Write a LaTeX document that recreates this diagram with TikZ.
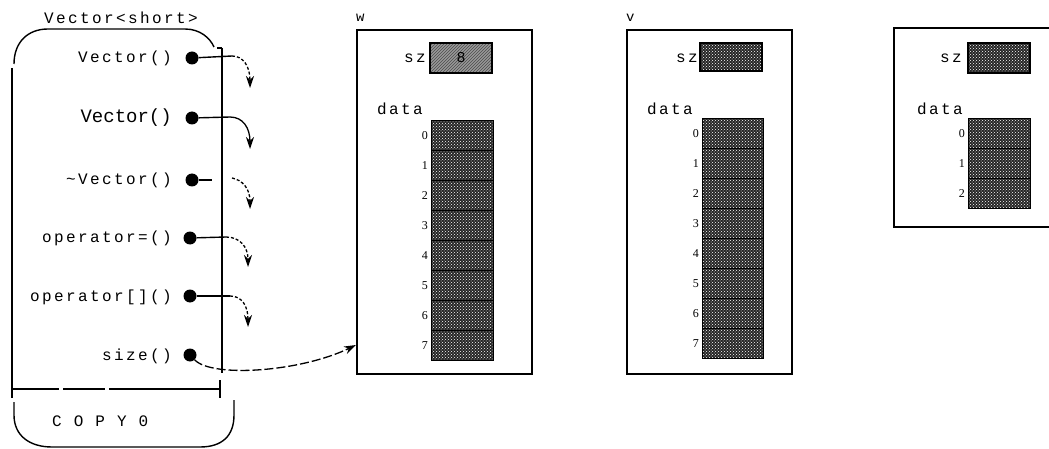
\documentclass[tikz,border=0pt]{standalone}
\usepackage{fontspec}
\newfontfamily\cour[LetterSpace=15]{Liberation Mono}
\newfontfamily\courplain{Liberation Mono}
\newfontfamily\idxfont{Liberation Serif}
\usetikzlibrary{patterns,arrows.meta,calc}
\tikzset{
  boxline/.style={line width=1.4pt},
  objbox/.style={draw, line width=2pt, rectangle, inner sep=0pt},
  lbl/.style={font=\cour\fontsize{16}{16}\selectfont, inner sep=0pt},
  dotnode/.style={circle, fill=black, inner sep=0pt, minimum size=13pt},
  cell/.style={draw, line width=1.4pt, rectangle, inner sep=0pt, anchor=north west,
    minimum width=62pt, minimum height=30pt,
    preaction={fill=black!85}, pattern=crosshatch dots, pattern color=white},
  szcell/.style={draw, line width=1.4pt, rectangle, inner sep=0pt,
    preaction={fill=black!85}, pattern=crosshatch dots, pattern color=white},
  idx/.style={font=\idxfont\fontsize{12}{12}\selectfont, inner sep=0pt, anchor=east},
  callarrow/.style={line width=1.3pt, densely dashed, -{Stealth[length=12pt,width=8pt]}},
  stub/.style={line width=1.4pt},
}
\begin{document}
\begin{tikzpicture}[x=1pt,y=-1pt]
\useasboundingbox (0,0) rectangle (1049,449);

% ---------- left class box ----------
\node[lbl, anchor=base] (title) at (121,24) {Vector<short>};
\draw[boxline] (14,64) .. controls (14,42) and (28,29) .. (48,29) -- (185,29)
  .. controls (200,29) and (210,38) .. (214,47);
\draw[boxline] (12,68) -- (12,398);
\draw[boxline] (222,48) -- (222,373);
\draw[boxline] (217,48) -- (222,48);
\draw[boxline, dash pattern=on 47pt off 4pt on 42pt off 4pt on 130pt] (12,389) -- (220,389);
\draw[boxline] (220,380) -- (220,398);
\draw[boxline] (14,402) -- (14,415) .. controls (14,436) and (30,447) .. (52,447) -- (200,447)
  .. controls (222,447) and (234,436) .. (234,415) -- (234,400);
\node[lbl, anchor=base west] (copy) at (52,426) {C O P Y 0};

% methods
\node[lbl, anchor=east] (m1) at (172,58) {Vector()};
\node[font=\courplain\fontsize{19}{19}\selectfont, inner sep=0pt, anchor=east] (m2) at (172,118) {Vector()};
\node[lbl, anchor=east] (m3) at (172,180) {\textasciitilde Vector()};
\node[lbl, anchor=east] (m4) at (172,238) {operator=()};
\node[lbl, anchor=east] (m5) at (172,297) {operator[]()};
\node[lbl, anchor=east] (m6) at (172,356) {size()};

\node[dotnode] (d1) at (192,58) {};
\node[dotnode] (d2) at (192,118) {};
\node[dotnode] (d3) at (192,180) {};
\node[dotnode] (d4) at (190,238) {};
\node[dotnode] (d5) at (190,296) {};
\node[dotnode] (d6) at (190,355) {};

\coordinate (a1) at (232,56);  \coordinate (t1) at (250,88);
\coordinate (a2) at (230,117); \coordinate (t2) at (250,149);
\coordinate (b3) at (212,180); \coordinate (a3) at (232,178); \coordinate (t3) at (250,209);
\coordinate (a4) at (226,237); \coordinate (t4) at (248,267);
\coordinate (a5) at (230,296); \coordinate (t5) at (248,327);

\draw[stub] (d1) -- (a1);
\draw[callarrow] (a1) .. controls (243,56) and (250,66) .. (t1);
\draw[stub] (d2) -- (a2);
\draw[callarrow, solid] (a2) .. controls (243,117) and (250,128) .. (t2);
\draw[stub] (d3) -- (b3);
\draw[callarrow] (a3) .. controls (242,180) and (250,188) .. (t3);
\draw[stub] (d4) -- (a4);
\draw[callarrow] (a4) .. controls (240,237) and (248,247) .. (t4);
\draw[stub] (d5) -- (a5);
\draw[callarrow] (a5) .. controls (242,296) and (248,306) .. (t5);

% ---------- object w ----------
\node[font=\courplain\fontsize{14}{14}\selectfont, inner sep=0pt, anchor=base west] (wlbl) at (356,22) {w};
\node[objbox, minimum width=175pt, minimum height=344pt] (w) at (444.5,202) {};
\node[lbl, anchor=east] (wsz) at (426,58) {sz};
\node[draw, line width=1.4pt, inner sep=0pt, minimum width=62pt, minimum height=30pt,
  preaction={fill=black!40}, pattern=north east lines, pattern color=black!70,
  font=\courplain\fontsize{15}{15}\selectfont] (wszc) at (461,58) {8};
\node[lbl, anchor=base west] (wdata) at (377,115) {data};
\foreach \i in {0,...,7} {
  \node[cell] (wc\i) at (431,{120+30*\i}) {};
  \node[idx] at ($(wc\i.west)+(-3,0)$) {\i};
}

\draw[line width=1.3pt, dash pattern=on 9pt off 3pt, -{Stealth[length=12pt,width=8pt]}]
  (d6) .. controls (212,378) and (300,372) .. ($(w.south west)+(0,-30)$);

% ---------- object v ----------
\node[font=\courplain\fontsize{14}{14}\selectfont, inner sep=0pt, anchor=base west] (vlbl) at (626,22) {v};
\node[objbox, minimum width=165pt, minimum height=344pt] (v) at (709.5,202) {};
\node[lbl, anchor=east] (vsz) at (698,58) {sz};
\node[szcell, minimum width=62pt, minimum height=28pt] (vszc) at (731,57) {};
\node[lbl, anchor=base west] (vdata) at (647,115) {data};
\foreach \i in {0,...,7} {
  \node[cell, minimum width=61pt] (vc\i) at (702,{118+30*\i}) {};
  \node[idx] at ($(vc\i.west)+(-3,0)$) {\i};
}

% ---------- third object (cut off) ----------
\draw[line width=2pt] (1049,28) -- (894,28) -- (894,227) -- (1049,227);
\node[lbl, anchor=east] (xsz) at (962,58) {sz};
\node[szcell, minimum width=62pt, minimum height=30pt] (xszc) at (999,58) {};
\node[lbl, anchor=base west] (xdata) at (917,115) {data};
\foreach \i in {0,1,2} {
  \node[cell, minimum width=62pt] (xc\i) at (968,{118+30*\i}) {};
  \node[idx] at ($(xc\i.west)+(-3,0)$) {\i};
}
\end{tikzpicture}
\end{document}
